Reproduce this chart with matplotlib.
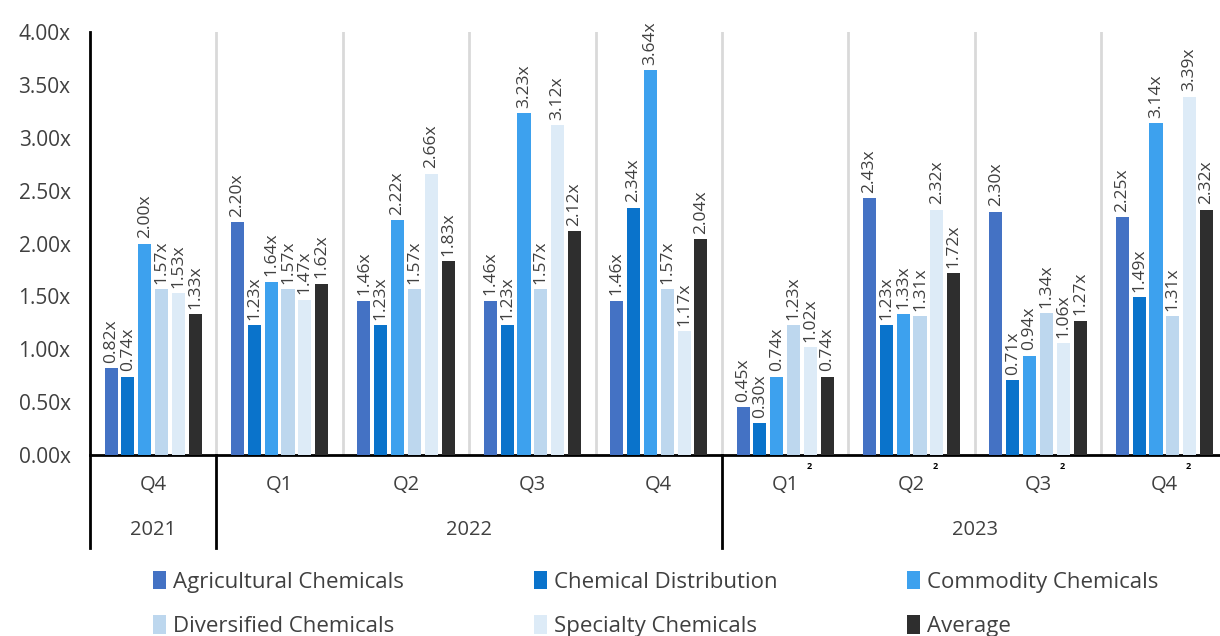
import numpy as np
import matplotlib.pyplot as plt

plt.rcParams['font.family'] = ['Open Sans', 'DejaVu Sans']

quarters = ['Q4', 'Q1', 'Q2', 'Q3', 'Q4', 'Q1', 'Q2', 'Q3', 'Q4']
years = ['2021', '2022', '2023']
year_spans = [(0, 0), (1, 4), (5, 8)]
footnoted = [5, 6, 7, 8]

series_names = ['Agricultural Chemicals', 'Chemical Distribution', 'Commodity Chemicals',
                'Diversified Chemicals', 'Specialty Chemicals', 'Average']
agricultural = [0.82, 2.20, 1.46, 1.46, 1.46, 0.45, 2.43, 2.30, 2.25]
distribution = [0.74, 1.23, 1.23, 1.23, 2.34, 0.30, 1.23, 0.71, 1.49]
commodity = [2.00, 1.64, 2.22, 3.23, 3.64, 0.74, 1.33, 0.94, 3.14]
diversified = [1.57, 1.57, 1.57, 1.57, 1.57, 1.23, 1.31, 1.34, 1.31]
specialty = [1.53, 1.47, 2.66, 3.12, 1.17, 1.02, 2.32, 1.06, 3.39]
average = [1.33, 1.62, 1.83, 2.12, 2.04, 0.74, 1.72, 1.27, 2.32]

colors = ['#4472C4', '#0A73CB', '#3DA1EE', '#BDD7EE', '#DDEBF7', '#2E2E2E']
all_series = [agricultural, distribution, commodity, diversified, specialty, average]

text_col = '#404040'

fig = plt.figure(figsize=(12.2, 6.36), dpi=100)
ax = fig.add_axes([90 / 1220, 1 - 455 / 636, 1137.6 / 1220, 423 / 636])

x = np.arange(len(quarters))
step = 0.133
width = 0.103
for i, (name, vals, c) in enumerate(zip(series_names, all_series, colors)):
    xs = x + (i - 2.5) * step
    ax.bar(xs, vals, width, color=c, label=name, zorder=3)
    for xi, v in zip(xs, vals):
        ax.text(xi, v + 0.05, f'{v:.2f}x', rotation=90, ha='center', va='bottom',
                fontsize=12.5, color=text_col, zorder=4)

ax.set_xlim(-0.5, len(quarters) - 0.5)
ax.set_ylim(0, 4)
ax.set_yticks(np.arange(0, 4.01, 0.5))
ax.set_yticklabels([f'{t:.2f}x' for t in np.arange(0, 4.01, 0.5)])
ax.tick_params(axis='y', length=0, pad=14, labelsize=15, labelcolor=text_col)
ax.set_xticks([])

for s in ['top', 'right', 'left']:
    ax.spines[s].set_visible(False)
ax.spines['bottom'].set_linewidth(2)
ax.spines['bottom'].set_color('black')

for g in range(len(quarters) - 1):
    ax.axvline(g + 0.5, color='#D9D9D9', lw=2, zorder=1)

# category axis below the plot
yb = -93 / 105.75
for xv in [-0.5, 0.5, 4.5]:
    ax.plot([xv, xv], [4 if xv == -0.5 else 0, yb], color='black', lw=2,
            clip_on=False, zorder=5)

for g, q in enumerate(quarters):
    ax.text(g, -0.284, q, ha='center', va='center', fontsize=14.5, color=text_col,
            clip_on=False)
    if g in footnoted:
        ax.text(g + 0.19, -0.11, '2', ha='center', va='center', fontsize=6.5,
                fontweight='bold', color='black', clip_on=False)

for yr, (a, b) in zip(years, year_spans):
    ax.text((a + b) / 2, -0.709, yr, ha='center', va='center', fontsize=14.5,
            color=text_col, clip_on=False)

handles, labels = ax.get_legend_handles_labels()
order = [0, 3, 1, 4, 2, 5]
leg = fig.legend([handles[k] for k in order], [labels[k] for k in order], ncol=3,
                 loc='lower left', bbox_to_anchor=(0.109, -0.033, 0.857, 0.14),
                 mode='expand', frameon=False, fontsize=16, handlelength=0.6,
                 handleheight=0.9, handletextpad=0.3, labelspacing=1.0,
                 labelcolor=text_col)

fig.savefig('out.png', dpi=100)
